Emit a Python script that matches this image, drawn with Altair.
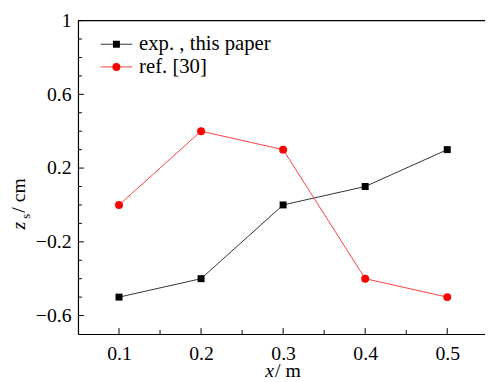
import altair as alt
import pandas as pd

# ---- data ----
x_vals = [0.1, 0.2, 0.3, 0.4, 0.5]
exp_vals = [-0.5, -0.4, 0.0, 0.1, 0.3]
ref_vals = [0.0, 0.4, 0.3, -0.4, -0.5]
series_names = ["exp. , this paper", "ref. [30]"]
x_major = [0.1, 0.2, 0.3, 0.4, 0.5]
x_minor = [0.15, 0.25, 0.35, 0.45]
y_major = [-0.6, -0.2, 0.2, 0.6, 1.0]
y_minor = [-0.5, -0.4, -0.3, -0.1, 0.0, 0.1, 0.3, 0.4, 0.5, 0.7, 0.8, 0.9]

W, H = 413, 318
FONT = "Liberation Serif"
xscale = alt.Scale(domain=[0.05, 0.546], nice=False, zero=False)
yscale = alt.Scale(domain=[-0.7, 1.0], nice=False, zero=False)

xaxis = alt.Axis(
    values=x_major, format=".1~f", ticks=False, grid=False, title=None,
    domainColor="black", domainWidth=1.2, labelFont=FONT, labelFontSize=20,
    labelColor="black", labelPadding=10, labelOverlap=False, labelFlush=False)
yaxis = alt.Axis(
    values=y_major, format=".1~f", ticks=False, grid=False, title=None,
    domainColor="black", domainWidth=1.2, labelFont=FONT, labelFontSize=20,
    labelColor="black", labelPadding=7, labelOverlap=False, labelFlush=False)

def X(f):
    return alt.X(f, type="quantitative", scale=xscale, axis=xaxis)

def Y(f):
    return alt.Y(f, type="quantitative", scale=yscale, axis=yaxis)

exp_df = pd.DataFrame({"x": x_vals, "y": exp_vals})
ref_df = pd.DataFrame({"x": x_vals, "y": ref_vals})

exp_line = alt.Chart(exp_df).mark_line(color="#333333", strokeWidth=1).encode(x=X("x"), y=Y("y"))
exp_pts = alt.Chart(exp_df).mark_point(shape="square", filled=True, color="black", size=50, opacity=1).encode(x=X("x"), y=Y("y"))
ref_line = alt.Chart(ref_df).mark_line(color="#ff4040", strokeWidth=1).encode(x=X("x"), y=Y("y"))
ref_pts = alt.Chart(ref_df).mark_point(shape="circle", filled=True, color="#ff0000", size=65, opacity=1).encode(x=X("x"), y=Y("y"))

# inward ticks
def xticks(vals, length):
    return alt.Chart(pd.DataFrame({"x": vals})).mark_rule(color="black", strokeWidth=1).encode(
        x=X("x"), y=alt.value(H), y2=alt.value(H - length))

def yticks(vals, length):
    return alt.Chart(pd.DataFrame({"y": vals})).mark_rule(color="black", strokeWidth=1).encode(
        y=Y("y"), x=alt.value(0), x2=alt.value(length))

top_border = alt.Chart(pd.DataFrame({"a": [0]})).mark_rule(color="black", strokeWidth=1.2).encode(
    y=alt.value(0), x=alt.value(0), x2=alt.value(W + 2))

def txt(s, x, y, size=20, style="normal", angle=0, align="left", baseline="alphabetic", font=FONT):
    kw = dict(font=font, fontSize=size, fontStyle=style, align=align, baseline=baseline, color="black")
    if angle:
        kw["angle"] = angle
    return alt.Chart(pd.DataFrame({"t": [s]})).mark_text(**kw).encode(
        text="t:N", x=alt.value(x), y=alt.value(y))

# axis titles
xt1 = txt("x", 190, 362, style="italic")
xt2 = txt("/ m", 200, 362)
yt1 = txt("z", -54, 212, style="italic", angle=270)
yt2 = txt("s", -49, 201, size=13, angle=270)
yt3 = txt("/ cm", -54, 195, angle=270)

# legend
leg_rows = [24, 47]
one = pd.DataFrame({"a": [0]})
leg_line1 = alt.Chart(one).mark_rule(color="#333333", strokeWidth=1).encode(
    x=alt.value(23), x2=alt.value(55), y=alt.value(leg_rows[0]))
leg_pt1 = alt.Chart(one).mark_point(shape="square", filled=True, color="black", size=50, opacity=1).encode(
    x=alt.value(39), y=alt.value(leg_rows[0]))
leg_line2 = alt.Chart(one).mark_rule(color="#ff4040", strokeWidth=1).encode(
    x=alt.value(23), x2=alt.value(55), y=alt.value(leg_rows[1]))
leg_pt2 = alt.Chart(one).mark_point(shape="circle", filled=True, color="#ff0000", size=65, opacity=1).encode(
    x=alt.value(39), y=alt.value(leg_rows[1]))
leg_t1 = txt(series_names[0], 62, leg_rows[0], size=21, baseline="middle")
leg_t2 = txt(series_names[1], 62, leg_rows[1], size=21, baseline="middle")

chart = alt.layer(
    exp_line, ref_line, exp_pts, ref_pts,
    xticks(x_major, 6), xticks(x_minor, 4), yticks(y_major, 6), yticks(y_minor, 4),
    top_border, xt1, xt2, yt1, yt2, yt3,
    leg_line1, leg_pt1, leg_line2, leg_pt2, leg_t1, leg_t2,
).properties(
    width=W, height=H,
    background="white",
    autosize=alt.AutoSizeParams(type="none"),
    padding={"left": 71, "top": 10, "right": 0, "bottom": 50},
).configure_view(stroke=None)

chart.save("out.html", embed_options={"renderer": "svg", "actions": False})
